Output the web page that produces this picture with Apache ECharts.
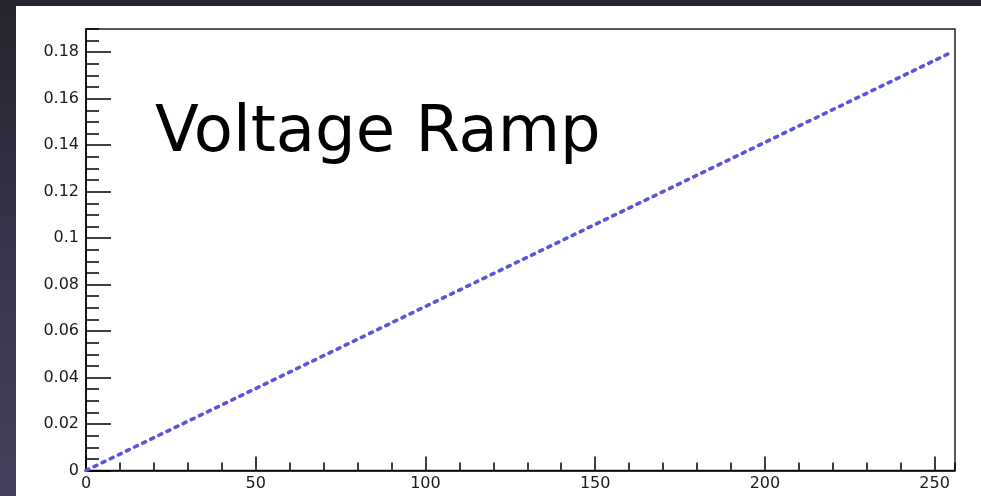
<!DOCTYPE html>
<html>
<head>
<meta charset="utf-8">
<script src="https://cdn.jsdelivr.net/npm/echarts@6/dist/echarts.min.js"></script>
<style>
html,body{margin:0;padding:0;width:981px;height:496px;overflow:hidden;background:linear-gradient(to bottom,#26242d 0%,#37344a 50%,#46415a 100%);}
#panel{position:absolute;left:16px;top:6px;right:0;bottom:0;background:#ffffff;}
#chart{position:absolute;left:0;top:0;width:981px;height:496px;}
</style>
</head>
<body>
<div id="panel"></div>
<div id="chart"></div>
<script>
// Data
const titleText = 'Voltage Ramp';
const rampX = [0, 50, 100, 150, 200, 255];
const rampY = [0, 0.0353, 0.0706, 0.1059, 0.1412, 0.18];
const xMin = 0, xMax = 256, xMajor = 50, xMinor = 10;
const yMin = 0, yMax = 0.19, yMajor = 0.02, yMinor = 0.005;

const chart = echarts.init(document.getElementById('chart'), null, {renderer: 'canvas'});
const labelFont = {fontFamily: 'DejaVu Sans, Liberation Sans, sans-serif', color: '#1a1a1a'};

const yFmt = v => {
  const r = Math.round(v * 100) / 100;
  if (Math.abs(v / yMajor - Math.round(v / yMajor)) > 1e-6) return '';
  return String(r);
};

chart.setOption({
  animation: false,
  backgroundColor: 'transparent',
  title: {
    text: titleText,
    left: 150,
    top: 97,
    textStyle: {fontFamily: 'DejaVu Sans', fontSize: 64, fontWeight: 'normal', color: '#000'}
  },
  grid: {
    left: 86, right: 26, top: 29, bottom: 25.5,
    show: true, borderColor: '#222', borderWidth: 1.5, backgroundColor: 'transparent'
  },
  xAxis: [
    {
      type: 'value', min: xMin, max: xMax, interval: xMajor,
      axisLine: {show: true, lineStyle: {color: '#000', width: 1.5}},
      axisTick: {show: true, inside: true, length: 14, lineStyle: {color: '#000', width: 1.5}},
      axisLabel: Object.assign({fontSize: 16, margin: 5, showMaxLabel: false}, labelFont),
      splitLine: {show: false}
    },
    {
      type: 'value', min: xMin, max: xMax, interval: xMinor, position: 'bottom',
      axisLine: {show: false},
      axisTick: {show: true, inside: true, length: 8, lineStyle: {color: '#000', width: 1.5}},
      axisLabel: {show: false},
      splitLine: {show: false}
    }
  ],
  yAxis: [
    {
      type: 'value', min: yMin, max: yMax, interval: yMajor,
      axisLine: {show: true, lineStyle: {color: '#000', width: 1.5}},
      axisTick: {show: true, inside: true, length: 25, lineStyle: {color: '#000', width: 1.5}},
      axisLabel: Object.assign({fontSize: 16, margin: 7, showMaxLabel: false, formatter: yFmt}, labelFont),
      splitLine: {show: false}
    },
    {
      type: 'value', min: yMin, max: yMax, interval: yMinor, position: 'left', offset: 0,
      axisLine: {show: false},
      axisTick: {show: true, inside: true, length: 13, lineStyle: {color: '#000', width: 1.5}},
      axisLabel: {show: false},
      splitLine: {show: false}
    }
  ],
  series: [{
    type: 'line',
    xAxisIndex: 0, yAxisIndex: 0,
    data: rampX.map((x, i) => [x, rampY[i]]),
    showSymbol: false,
    lineStyle: {color: '#5a55dd', width: 3.6, type: [3, 6], cap: 'round'}
  }]
});
</script>
</body>
</html>
